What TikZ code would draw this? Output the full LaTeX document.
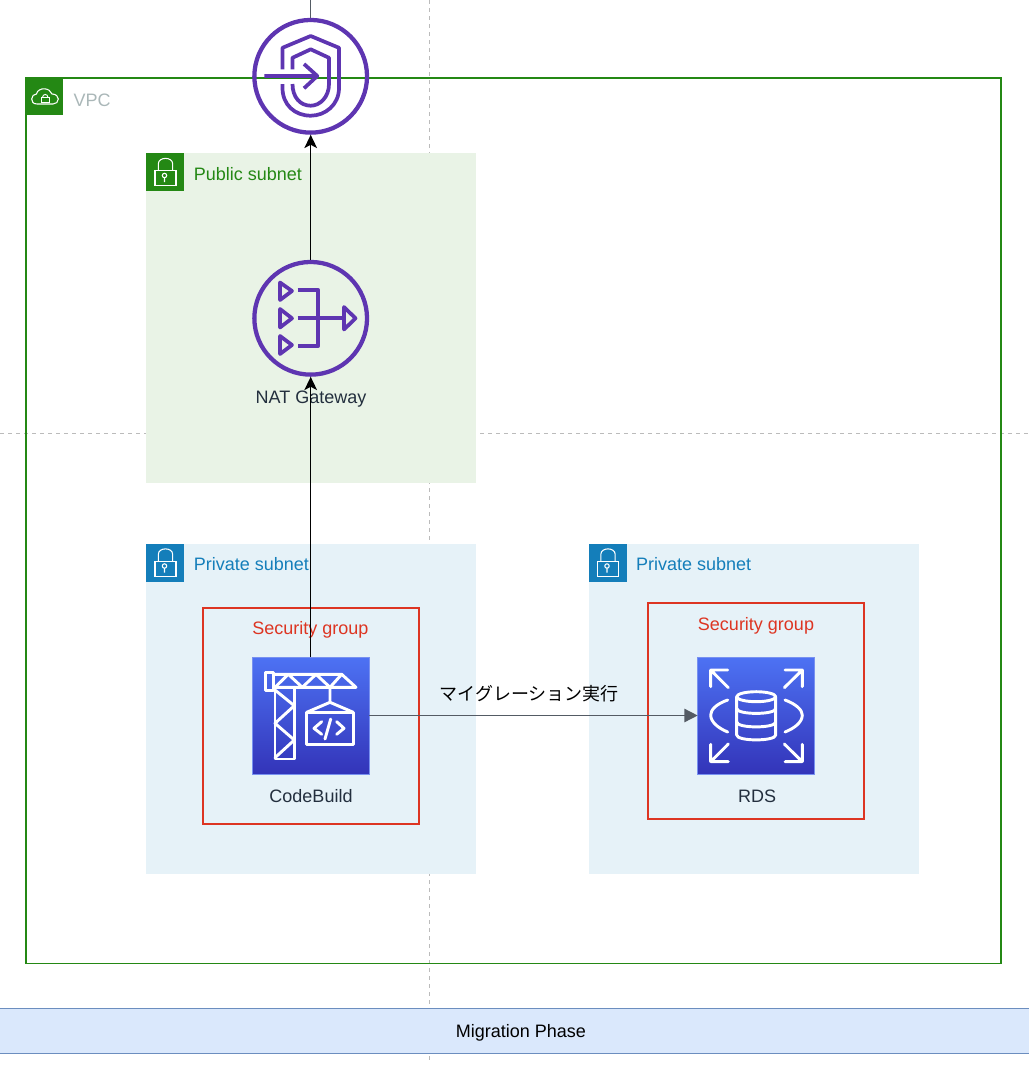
\documentclass[tikz,border=0pt]{standalone}
\usepackage{fontspec}
\setmainfont{Liberation Sans}
\newfontfamily\cjkfont{Noto Sans CJK JP}
\usetikzlibrary{arrows.meta}

\definecolor{vpcgreen}{RGB}{36,136,20}
\definecolor{vpcgray}{RGB}{170,183,184}
\definecolor{subnetblue}{RGB}{20,126,186}
\definecolor{publicfill}{RGB}{233,243,230}
\definecolor{privatefill}{RGB}{230,242,248}
\definecolor{sgred}{RGB}{221,53,34}
\definecolor{iconpurple}{RGB}{94,53,177}
\definecolor{labeldark}{RGB}{35,47,62}
\definecolor{linegray}{RGB}{84,91,100}
\definecolor{gridgray}{RGB}{187,187,187}
\definecolor{bandfill}{RGB}{218,232,252}
\definecolor{bandline}{RGB}{108,142,191}
\definecolor{topblue}{RGB}{77,114,243}
\definecolor{bottomblue}{RGB}{51,52,185}
\definecolor{edgeblue}{RGB}{120,145,240}

\tikzset{
	every picture/.style={line width=0.75pt},
	grid line/.style={draw=gridgray,line width=0.75pt,dash pattern=on 3pt off 3pt},
	vpc box/.style={draw=vpcgreen,line width=1pt},
	public box/.style={fill=publicfill},
	private box/.style={fill=privatefill},
	sg box/.style={draw=sgred,line width=1pt},
	sg text/.style={text=sgred,font=\fontsize{13.5}{16}\selectfont,inner sep=0pt},
	subnet text/.style={anchor=west,font=\fontsize{13.5}{16}\selectfont,inner sep=0pt},
	icon text/.style={text=labeldark,font=\fontsize{13.5}{16}\selectfont,inner sep=0pt},
	round icon/.style={circle,draw=iconpurple,line width=3.2pt,minimum size=84.5pt,inner sep=0pt,outer sep=1.6pt},
	purple glyph/.style={draw=iconpurple,line width=2.8pt,line join=round},
	square icon/.style={rectangle,minimum size=87.75pt,inner sep=0pt,outer sep=0pt,top color=topblue,bottom color=bottomblue,draw=edgeblue,line width=0.5pt},
	white glyph/.style={draw=white,line width=2.2pt,line join=round,line cap=round},
	main arrow/.style={black,line width=1.1pt,-{Stealth[length=10pt,width=9.5pt,inset=2.5pt]}},
	gray arrow/.style={linegray,line width=1.1pt,-{Triangle[length=10pt,width=10pt]}},
	lock icon/.pic={
		\fill[#1] (0,0) rectangle (38,38);
		\draw[white,line width=0.8pt] (9,17.7) rectangle (30,32.7);
		\draw[white,line width=0.8pt] (12.3,17.7) -- (12.3,11) .. controls (12.3,3.5) and (26.7,3.5) .. (26.7,11) -- (26.7,17.7);
		\draw[white,line width=0.8pt] (18.5,22.5) circle (2.2) (18.5,24.7) -- (18.5,29);
	},
	cloud icon/.pic={
		\fill[vpcgreen] (0,0) rectangle (37,37);
		\draw[white,line width=0.8pt] (11,26) .. controls (7,26) and (5.7,23.5) .. (5.7,21) .. controls (5.7,18) and (8,16) .. (10.5,16) .. controls (11,12.5) and (15,10.5) .. (18.5,10.8) .. controls (22,11) and (25,13) .. (26,16) .. controls (30,16) and (32.3,18.5) .. (32.3,21) .. controls (32.3,24) and (30,26) .. (27,26) -- cycle;
		\draw[white,line width=0.7pt] (15,19.5) rectangle (23.5,24);
		\draw[white,line width=0.7pt] (16.5,19.5) .. controls (16.5,15.5) and (22,15.5) .. (22,19.5);
	}
}

\begin{document}
\begin{tikzpicture}[x=0.75pt,y=0.75pt,yscale=-1,xscale=1]
	\useasboundingbox (0,0) rectangle (1028,1067);

	%Straight Lines: page grid
	\draw [grid line] (429.7,0) -- (429.7,1063);
	\draw [grid line] (0,433.5) -- (1028,433.5);

	%Shape: Rectangle: VPC
	\draw [vpc box] (26,78) rectangle (1001,963.5);
	\draw (26,78) pic [transform shape] {cloud icon};
	%Shape: Rectangle: subnets
	\fill [public box] (146,153) rectangle (476,483);
	\draw (146,153) pic [transform shape] {lock icon=vpcgreen};
	\fill [private box] (146,543.5) rectangle (476,873.5);
	\draw (146,543.5) pic [transform shape] {lock icon=subnetblue};
	\fill [private box] (588.5,543.5) rectangle (918.5,873.5);
	\draw (588.5,543.5) pic [transform shape] {lock icon=subnetblue};
	%Shape: Rectangle: security groups
	\draw [sg box] (203,608) rectangle (419,824);
	\draw [sg box] (648,603) rectangle (864,819);

	%Shape: Rectangle: phase band
	\draw [draw=bandline,fill=bandfill,line width=0.75pt] (-5,1008) rectangle (1033,1053);

	%Shape: Circle: internet gateway
	\node [round icon] (gateway) at (310.7,76.3) {};
	\draw [purple glyph] (264.3,76) -- (317.3,76) (304,64) -- (317.3,76) -- (304,88.3);
	\draw [purple glyph] (282.5,69.3) -- (282.5,47.8) -- (310.7,36) -- (339,47.8) -- (339,88) .. controls (339,105) and (325,115.7) .. (310.7,115.7) .. controls (295,115.7) and (282.5,105) .. (282.5,88) -- (282.5,84);
	\draw [purple glyph] (292.5,69.3) -- (292.5,57.8) -- (310.7,49.3) -- (329,57.8) -- (329,84) .. controls (329,97) and (320,105.7) .. (310.7,105.7) .. controls (300,105.7) and (292.5,97) .. (292.5,84);

	%Shape: Circle: NAT gateway
	\node [round icon] (nat) at (310.7,318.3) {};
	\draw [purple glyph] (280,282.5) -- (292,291) -- (280,300) -- cycle;
	\draw [purple glyph] (280,309) -- (292,318.3) -- (280,327.5) -- cycle;
	\draw [purple glyph] (280,336) -- (292,345) -- (280,354) -- cycle;
	\draw [purple glyph] (297.7,290) -- (318.3,290) -- (318.3,346) -- (297.7,346) (297.7,318.3) -- (344,318.3);
	\draw [purple glyph] (344,307) -- (355.5,318.3) -- (344,329.5) -- cycle;

	%Shape: Square: CodeBuild
	\node [square icon] (codebuild) at (310.7,715.5) {};
	\draw [white glyph] (265.5,672.8) rectangle (273.3,690.5);
	\draw [white glyph] (273.3,674.3) -- (341.7,674.3) -- (356,687.3) -- (275,687.3);
	\draw [white glyph] (275,687.3) -- (288.3,674.3) -- (302.3,687.3) -- (316,674.3) -- (330,687.3) -- (341.7,674.3);
	\draw [white glyph] (275,687.3) -- (275,759) -- (294.3,759) -- (294.3,687.3);
	\draw [white glyph] (275,690) -- (294.3,705.7) -- (275,723.3) -- (294.3,740) -- (275,757.7);
	\draw [white glyph] (330,687.3) -- (330,702.3) (306.7,712.3) -- (330,702.3) -- (353.3,712.3);
	\draw [white glyph] (306.7,712.3) rectangle (353.3,744.3);
	\draw [white glyph] (321.7,721.7) -- (314,728.3) -- (321.7,734.3) (330.7,719) -- (325,739) (336.7,721.7) -- (344,728.3) -- (336.7,734.3);

	%Shape: Square: RDS
	\node [square icon] (rds) at (756.2,715.5) {};
	\draw [white glyph] (728.3,687.7) -- (710.7,670) (710.7,686.7) -- (710.7,670) -- (727.7,670);
	\draw [white glyph] (784.3,687.7) -- (802.3,670) (785,670) -- (802.3,670) -- (802.3,686.7);
	\draw [white glyph] (728.3,744) -- (710.7,761.7) (710.7,744.3) -- (710.7,761.7) -- (728.3,761.7);
	\draw [white glyph] (784.3,744) -- (802.3,761.7) (802.3,744.3) -- (802.3,761.7) -- (785,761.7);
	\draw [white glyph] (727.7,700) .. controls (716,704) and (710.7,710) .. (710.7,715) .. controls (710.7,722) and (718,728) .. (727.7,732);
	\draw [white glyph] (785,700) .. controls (796,704) and (802.3,710) .. (802.3,715) .. controls (802.3,722) and (795,728) .. (785,732);
	\draw [white glyph] (756.2,696.7) ellipse (19.5 and 5);
	\draw [white glyph] (736.7,696.7) -- (736.7,735) .. controls (736.7,741.5) and (775.7,741.5) .. (775.7,735) -- (775.7,696.7);
	\draw [white glyph] (736.7,708.5) .. controls (736.7,715) and (775.7,715) .. (775.7,708.5);
	\draw [white glyph] (736.7,722) .. controls (736.7,728.5) and (775.7,728.5) .. (775.7,722);

	% Text Node
	\node [subnet text,text=vpcgray] (vpclabel) at (73,100) {VPC};
	% Text Node
	\node [subnet text,text=vpcgreen] (publiclabel) at (193.3,174) {Public subnet};
	% Text Node
	\node [subnet text,text=subnetblue] (privateleft) at (193.3,564) {Private subnet};
	% Text Node
	\node [subnet text,text=subnetblue] (privateright) at (635.5,564) {Private subnet};
	% Text Node
	\node [sg text] (sgleft) at (310.5,629.5) {Security group};
	% Text Node
	\node [sg text] (sgright) at (756,625.5) {Security group};
	% Text Node
	\node [icon text] (natlabel) at (311,399) {NAT Gateway};
	% Text Node
	\node [icon text] (buildlabel) at (311,796) {CodeBuild};
	% Text Node
	\node [icon text] (rdslabel) at (757,796) {RDS};
	% Text Node
	\node [font=\cjkfont\fontsize{13.5}{16}\selectfont,inner sep=0pt] (migratelabel) at (529,694) {マイグレーション実行};
	% Text Node
	\node [font=\fontsize{13.5}{16}\selectfont,inner sep=0pt] (phaselabel) at (521,1032.5) {Migration Phase};

	%Straight Lines
	\coordinate (topend) at (310.7,0);
	\draw [linegray,line width=1.1pt] (topend) -- (gateway.north);
	\draw [main arrow] (nat.north) -- (gateway.south);
	\draw [main arrow] (codebuild.north) -- (nat.south);
	\draw [gray arrow] (codebuild.east) -- (rds.west);
\end{tikzpicture}
\end{document}
